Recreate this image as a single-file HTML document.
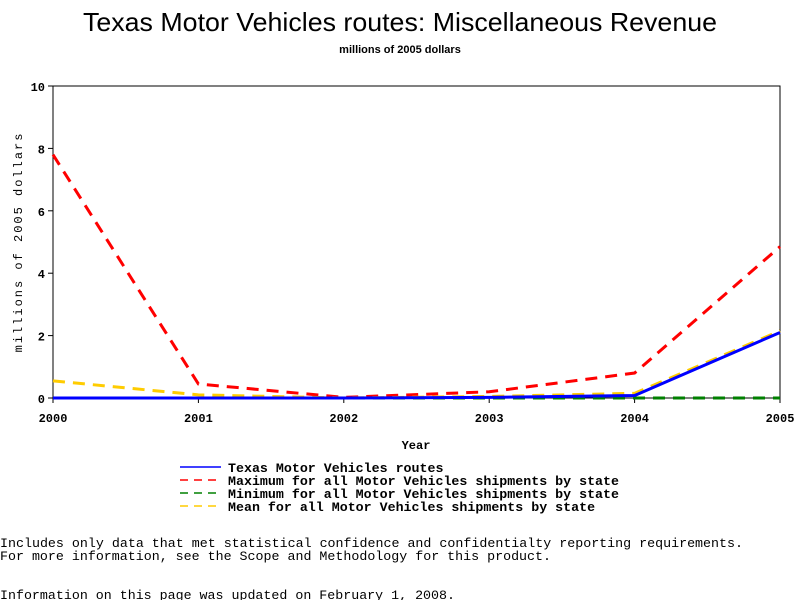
<!DOCTYPE html>
<html><head><meta charset="utf-8"><style>
body{margin:0;background:#fff;width:800px;height:600px;overflow:hidden;font-family:"Liberation Mono",monospace}
text{font-family:"Liberation Sans",sans-serif}
text.m{font-family:"Liberation Mono",monospace;font-weight:bold}
text.n{font-family:"Liberation Mono",monospace}
</style></head><body>
<svg id="c" width="800" height="600">
<text x="83" y="31" font-size="26" textLength="634" lengthAdjust="spacingAndGlyphs">Texas Motor Vehicles routes: Miscellaneous Revenue</text>
<text x="400" y="53" text-anchor="middle" font-size="11" font-weight="bold">millions of 2005 dollars</text>
<rect x="53" y="86" width="727" height="312" fill="none" stroke="#000"/>
<g id="ax"></g><g id="series"></g>
<text x="416" y="449" text-anchor="middle" font-size="12" class="m">Year</text>
<text transform="translate(22,242) rotate(-90)" text-anchor="middle" font-size="12" class="n" letter-spacing="2">millions of 2005 dollars</text>
<g id="legend"></g>
<text x="0" y="547" font-size="13" class="n" textLength="743" lengthAdjust="spacingAndGlyphs">Includes only data that met statistical confidence and confidentialty reporting requirements.</text>
<text x="0" y="560" font-size="13" class="n" textLength="551" lengthAdjust="spacingAndGlyphs">For more information, see the Scope and Methodology for this product.</text>
<text x="0" y="599" font-size="13" class="n" textLength="455" lengthAdjust="spacingAndGlyphs">Information on this page was updated on February 1, 2008.</text>
</svg>
<script>
const years=[2000,2001,2002,2003,2004,2005];
const yTicks=[0,2,4,6,8,10];
const texas=[0,0,0,0.02,0.08,2.1];
const maxS=[7.8,0.45,0.02,0.2,0.8,4.85];
const minS=[0,0,0,0,0,0];
const meanS=[0.55,0.1,0,0.05,0.15,2.15];
const NS="http://www.w3.org/2000/svg";
const X=i=>53+(780-53)*i/(years.length-1);
const Y=v=>398-312*v/10;
function mk(t,a,p){const e=document.createElementNS(NS,t);for(const k in a)e.setAttribute(k,a[k]);p.appendChild(e);return e;}
const ax=document.getElementById('ax');
yTicks.forEach(v=>{
 const l=mk('line',{x1:48,x2:53,y1:Y(v),y2:Y(v),stroke:'#000'},ax);
 
 
 const t=mk('text',{x:45,y:Y(v)+5,'text-anchor':'end','font-size':12,class:'m'},ax);t.textContent=v;
 
 
});
years.forEach((y,i)=>{
 const l=mk('line',{x1:X(i),x2:X(i),y1:398,y2:403,stroke:'#000'},ax);
 
 
 const t=mk('text',{x:X(i),y:422,'text-anchor':'middle','font-size':12,class:'m'},ax);t.textContent=y;
 
 
});
const sg=document.getElementById('series');
const defs=[
 {d:maxS,c:'#ff0000',dash:'12 8',n:'max-line'},
 {d:meanS,c:'#ffcc00',dash:'12 8',n:'mean-line'},
 {d:minS,c:'#008000',dash:'12 8',n:'min-line'},
 {d:texas,c:'#0000ff',dash:'',n:'texas-line'}];
defs.forEach(s=>{
 const p=mk('polyline',{points:s.d.map((v,i)=>X(i)+','+Y(v)).join(' '),fill:'none',stroke:s.c,'stroke-width':3,'stroke-dasharray':s.dash},sg);
 
 
});
const lg=document.getElementById('legend');
const items=[['#0000ff','','Texas Motor Vehicles routes'],['#ff0000','8 6','Maximum for all Motor Vehicles shipments by state'],['#008000','8 6','Minimum for all Motor Vehicles shipments by state'],['#ffcc00','8 6','Mean for all Motor Vehicles shipments by state']];
items.forEach((it,i)=>{
 const y=467+i*13;
 const l=mk('line',{x1:180,x2:221,y1:y,y2:y,stroke:it[0],'stroke-width':1.5,'stroke-dasharray':it[1]},lg);
 
 
 const t=mk('text',{x:228,y:y+5,'font-size':13.3,class:'m'},lg);t.textContent=it[2];
 
 
});
</script>
</body></html>
